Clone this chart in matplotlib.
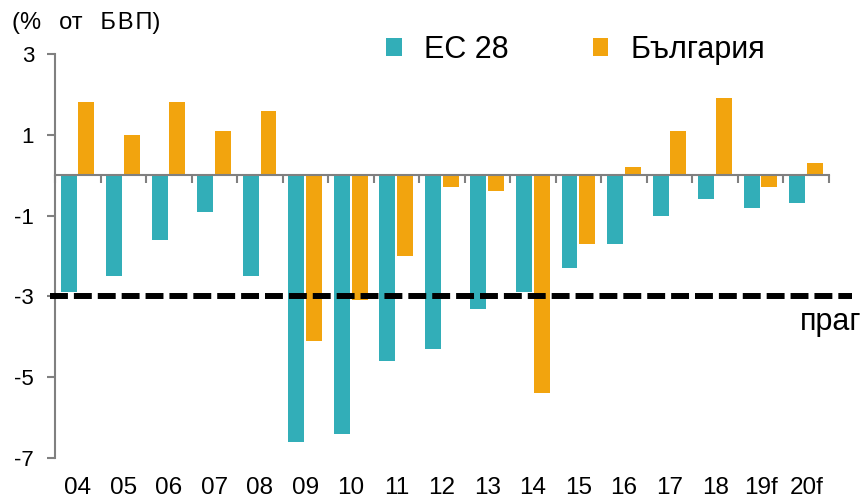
import numpy as np
import matplotlib
matplotlib.use('Agg')
import matplotlib.pyplot as plt

plt.rcParams['font.family'] = ['Liberation Sans', 'DejaVu Sans']

years = ['04', '05', '06', '07', '08', '09', '10', '11', '12', '13', '14',
         '15', '16', '17', '18', '19f', '20f']
eu28 = [-2.9, -2.5, -1.6, -0.9, -2.5, -6.6, -6.4, -4.6, -4.3, -3.3, -2.9,
        -2.3, -1.7, -1.0, -0.6, -0.8, -0.7]
bulgaria = [1.8, 1.0, 1.8, 1.1, 1.6, -4.1, -3.1, -2.0, -0.3, -0.4, -5.4,
            -1.7, 0.2, 1.1, 1.9, -0.3, 0.3]
threshold = -3
yticks = [3, 1, -1, -3, -5, -7]

teal = '#32aeb8'
orange = '#f2a40e'
grey = '#808080'

fig = plt.figure(figsize=(8.63, 5.03), dpi=100)
ax = fig.add_axes([0.0637, 0.0895, 0.8969, 0.8031])

x = np.arange(len(years))
w = 0.35
ax.bar(x - 0.2, eu28, w, color=teal, label='ЕС 28', zorder=2)
ax.bar(x + 0.19, bulgaria, w, color=orange, label='България', zorder=2)

# threshold line
ax.plot([-0.6, 17.0], [threshold, threshold], color='black', lw=4.3,
        dashes=(3, 1), dash_capstyle='butt', clip_on=False, zorder=3)
ax.text(15.87, -3.82, 'праг', fontsize=22, va='baseline', ha='left',
        clip_on=False)

ax.set_xlim(-0.5, len(years) - 0.5)
ax.set_ylim(-7, 3)
ax.set_yticks(yticks)
ax.set_yticklabels([str(v) for v in yticks], fontsize=16)

for s in ['top', 'right']:
    ax.spines[s].set_visible(False)
ax.spines['bottom'].set_position(('data', 0))
for s in ['left', 'bottom']:
    ax.spines[s].set_color(grey)
    ax.spines[s].set_linewidth(1.5)

ax.tick_params(axis='y', length=6, width=1.5, color=grey, pad=9)
ax.set_xticks(x)
ax.set_xticklabels([])
ax.tick_params(axis='x', which='major', length=0)
ax.set_xticks(np.arange(-0.5, len(years)), minor=True)
ax.tick_params(axis='x', which='minor', length=6, width=1.5, color=grey)

for i, lab in enumerate(years):
    ax.annotate(lab, xy=(i, 0), xycoords=('data', 'axes fraction'),
                xytext=(0, -13.5), textcoords='offset points',
                ha='center', va='top', fontsize=17.5)

title = '(%  \u2009от  \u2009Б\u200aВ\u200aП)'
fig.text(12 / 863, 1 - 29.5 / 503, title, fontsize=17,
         va='baseline', ha='left')

fig.legend(loc='center left', bbox_to_anchor=(386 / 863, 1 - 50 / 503),
           ncol=2, frameon=False, fontsize=22, handlelength=0.52,
           handleheight=0.52, handletextpad=0.72, columnspacing=2.75,
           borderpad=0, borderaxespad=0)

fig.savefig('out.png', dpi=100)
